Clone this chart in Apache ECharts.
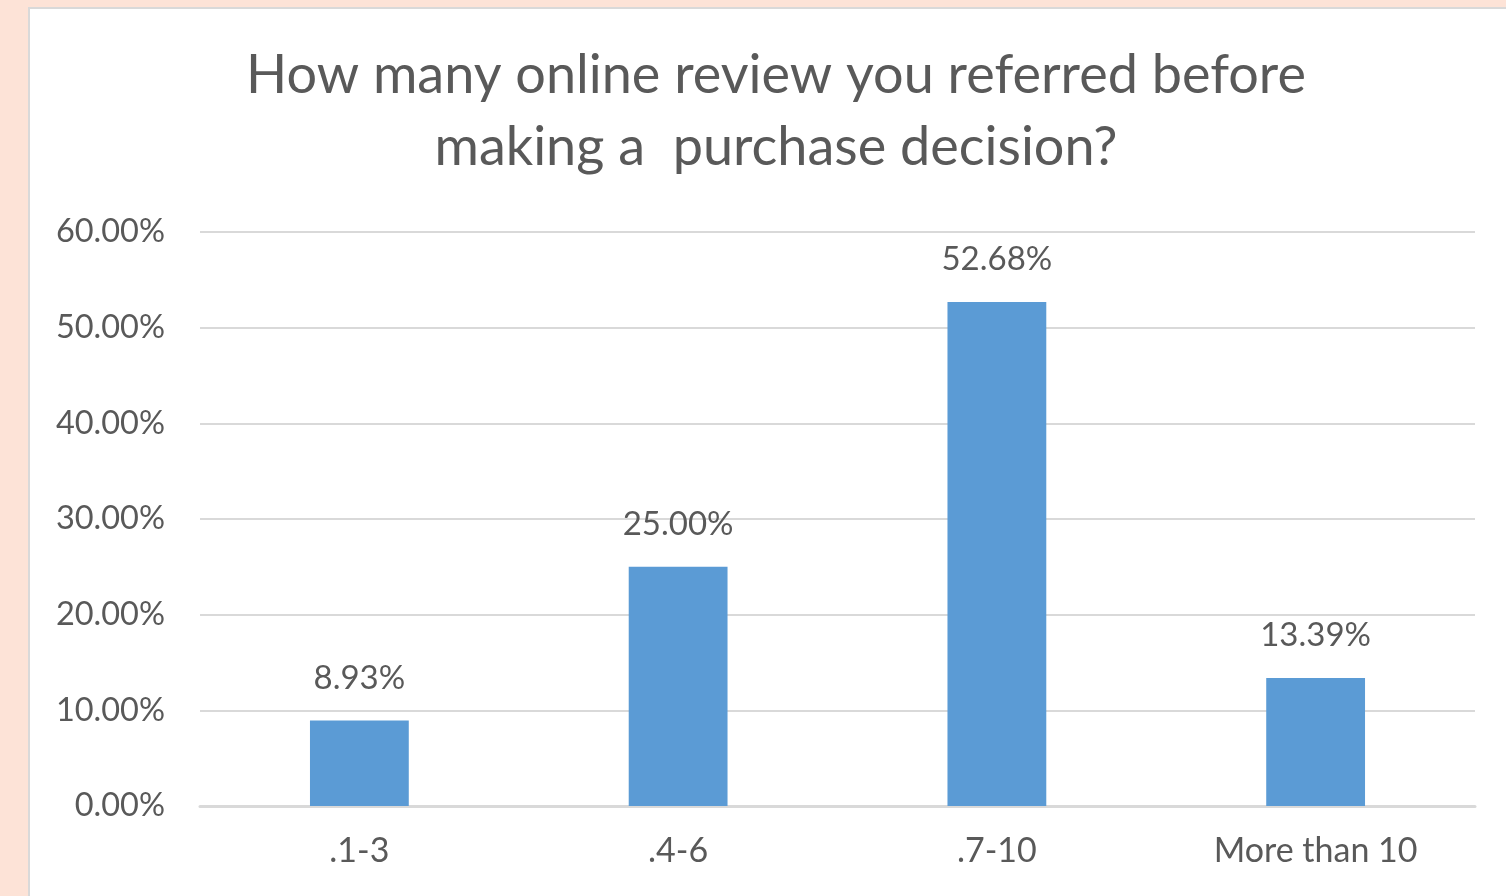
<!DOCTYPE html>
<html>
<head>
<meta charset="utf-8">
<script src="https://cdn.jsdelivr.net/npm/echarts@6/dist/echarts.min.js"></script>
<style>
  html, body { margin: 0; padding: 0; background: #fde3d7; }
  #chart { width: 1506px; height: 896px; }
</style>
</head>
<body>
<div id="chart"></div>
<script>
// Survey answers: number of online reviews consulted before buying
const categories = ['.1-3', '.4-6', '.7-10', 'More than 10'];
const shares = [8.93, 25.00, 52.68, 13.39];
const titleLines = ['How many online review you referred before', 'making a  purchase decision?'];

const textColor = '#595959';
const font = 'Lato, "Open Sans", sans-serif';

const chart = echarts.init(document.getElementById('chart'));
chart.setOption({
  backgroundColor: '#fde3d7',
  animation: false,
  graphic: [{
    type: 'rect',
    z: -10,
    shape: { x: 29, y: 8, width: 1500, height: 900 },
    style: { fill: '#ffffff', stroke: '#d9d9d9', lineWidth: 2 }
  }],
  title: {
    text: titleLines.join('\n'),
    left: 771,
    top: 35,
    textAlign: 'center',
    textStyle: {
      color: textColor,
      fontFamily: font,
      fontWeight: 'normal',
      fontSize: 54,
      lineHeight: 72
    }
  },
  grid: { left: 200, right: 31, top: 232, bottom: 90 },
  xAxis: {
    type: 'category',
    data: categories,
    axisTick: { show: false },
    axisLine: { lineStyle: { color: '#d9d9d9', width: 3 } },
    axisLabel: {
      color: textColor,
      fontFamily: font,
      fontSize: 34,
      margin: 28
    }
  },
  yAxis: {
    type: 'value',
    min: 0,
    max: 60,
    interval: 10,
    axisLine: { show: false },
    axisTick: { show: false },
    splitLine: { lineStyle: { color: '#d9d9d9', width: 2 } },
    axisLabel: {
      color: textColor,
      fontFamily: font,
      fontSize: 32.5,
      margin: 35,
      formatter: v => v.toFixed(2) + '%'
    }
  },
  series: [{
    type: 'bar',
    data: shares,
    barWidth: '31%',
    itemStyle: { color: '#5b9bd5' },
    label: {
      show: true,
      position: 'top',
      distance: 26,
      color: textColor,
      fontFamily: font,
      fontSize: 33,
      formatter: p => p.value.toFixed(2) + '%'
    }
  }]
});
</script>
</body>
</html>
